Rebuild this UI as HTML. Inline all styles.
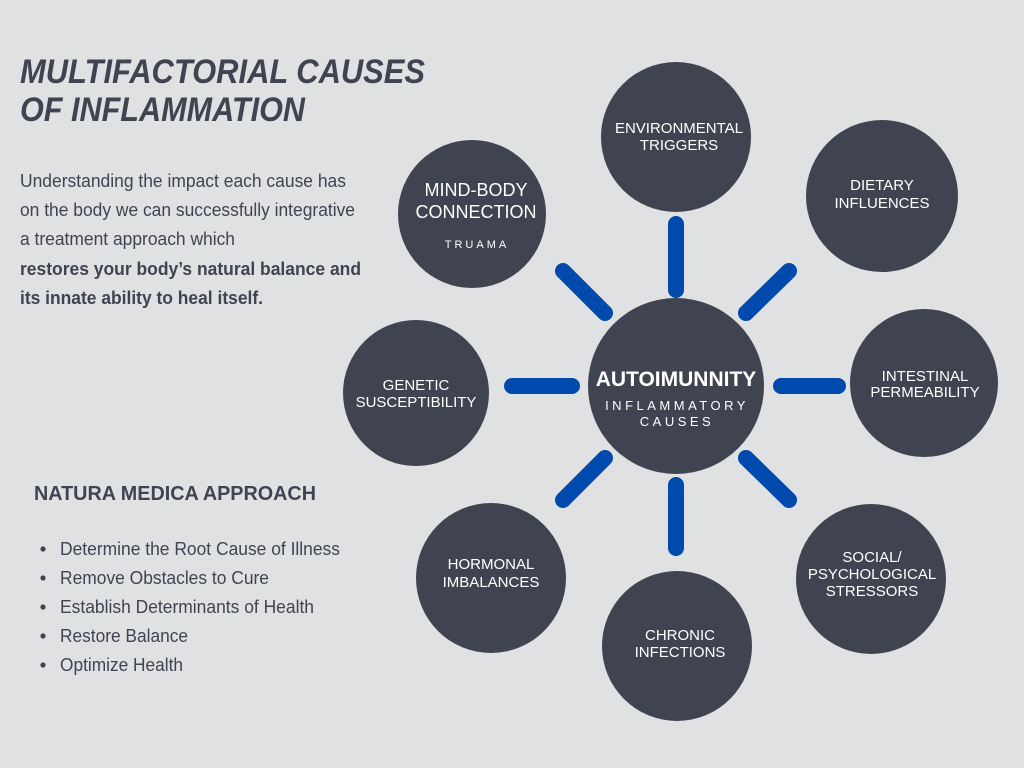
<!DOCTYPE html>
<html><head><meta charset="utf-8"><style>
html,body{margin:0;padding:0;background:#e0e1e3;}
svg{display:block;}
text{font-family:"Liberation Sans Narrow","Liberation Sans",sans-serif;}
</style></head><body>
<svg width="1024" height="768" viewBox="0 0 1024 768" xmlns="http://www.w3.org/2000/svg">
<rect width="1024" height="768" fill="#e0e1e3"/>
<g fill="#3f4450" font-style="italic" font-weight="bold" font-size="34">
<text x="20" y="83" textLength="405" lengthAdjust="spacingAndGlyphs">MULTIFACTORIAL CAUSES</text>
<text x="20" y="121" textLength="285" lengthAdjust="spacingAndGlyphs">OF INFLAMMATION</text>
</g>
<g fill="#3f4450" font-size="18">
<text x="20" y="187" textLength="326" lengthAdjust="spacingAndGlyphs">Understanding the impact each cause has</text>
<text x="20" y="216" textLength="335" lengthAdjust="spacingAndGlyphs">on the body we can successfully integrative</text>
<text x="20" y="245" textLength="215" lengthAdjust="spacingAndGlyphs">a treatment approach which</text>
<text x="20" y="275" font-weight="bold" textLength="341" lengthAdjust="spacingAndGlyphs">restores your body’s natural balance and</text>
<text x="20" y="304" font-weight="bold" textLength="243" lengthAdjust="spacingAndGlyphs">its innate ability to heal itself.</text>
<text x="34" y="500" font-weight="bold" font-size="20" textLength="282" lengthAdjust="spacingAndGlyphs">NATURA MEDICA APPROACH</text>
<circle cx="43" cy="549" r="2.6"/><text x="60" y="555" textLength="280" lengthAdjust="spacingAndGlyphs">Determine the Root Cause of Illness</text>
<circle cx="43" cy="578" r="2.6"/><text x="60" y="584" textLength="209" lengthAdjust="spacingAndGlyphs">Remove Obstacles to Cure</text>
<circle cx="43" cy="607" r="2.6"/><text x="60" y="613" textLength="254" lengthAdjust="spacingAndGlyphs">Establish Determinants of Health</text>
<circle cx="43" cy="636" r="2.6"/><text x="60" y="642" textLength="128" lengthAdjust="spacingAndGlyphs">Restore Balance</text>
<circle cx="43" cy="665" r="2.6"/><text x="60" y="671" textLength="123" lengthAdjust="spacingAndGlyphs">Optimize Health</text>
</g>
<g stroke="#004aad" stroke-width="16" stroke-linecap="round">
<line x1="676" y1="224" x2="676" y2="290"/>
<line x1="676" y1="485" x2="676" y2="548"/>
<line x1="781" y1="386" x2="838" y2="386"/>
<line x1="512" y1="386" x2="572" y2="386"/>
<line x1="563" y1="271" x2="605" y2="313"/>
<line x1="789" y1="271" x2="746" y2="313"/>
<line x1="563" y1="500" x2="605" y2="458"/>
<line x1="789" y1="500" x2="746" y2="458"/>
</g>
<g fill="#3f4450">
<circle cx="676" cy="386" r="88"/>
<circle cx="676" cy="137" r="75"/>
<circle cx="882" cy="196" r="76"/>
<circle cx="924" cy="383" r="74"/>
<circle cx="871" cy="579" r="75"/>
<circle cx="677" cy="646" r="75"/>
<circle cx="491" cy="578" r="75"/>
<circle cx="416" cy="393" r="73"/>
<circle cx="472" cy="214" r="74"/>
</g>
<g fill="#ffffff" text-anchor="middle" font-size="15">
<text x="676" y="386" font-weight="bold" font-size="21">AUTOIMUNNITY</text>
<text x="677" y="410" font-size="13" letter-spacing="3.5">INFLAMMATORY</text>
<text x="677" y="426" font-size="13" letter-spacing="3.5">CAUSES</text>
<text x="679" y="133">ENVIRONMENTAL</text><text x="679" y="150">TRIGGERS</text>
<text x="882" y="190">DIETARY</text><text x="882" y="208">INFLUENCES</text>
<text x="925" y="381">INTESTINAL</text><text x="925" y="397">PERMEABILITY</text>
<text x="872" y="562">SOCIAL/</text><text x="872" y="579">PSYCHOLOGICAL</text><text x="872" y="596">STRESSORS</text>
<text x="680" y="640">CHRONIC</text><text x="680" y="657">INFECTIONS</text>
<text x="491" y="569">HORMONAL</text><text x="491" y="587">IMBALANCES</text>
<text x="416" y="390">GENETIC</text><text x="416" y="407">SUSCEPTIBILITY</text>
<text x="476" y="196" font-size="18">MIND-BODY</text><text x="476" y="218" font-size="18">CONNECTION</text>
<text x="477" y="248" font-size="11" letter-spacing="3">TRUAMA</text>
</g>
</svg>
</body></html>
